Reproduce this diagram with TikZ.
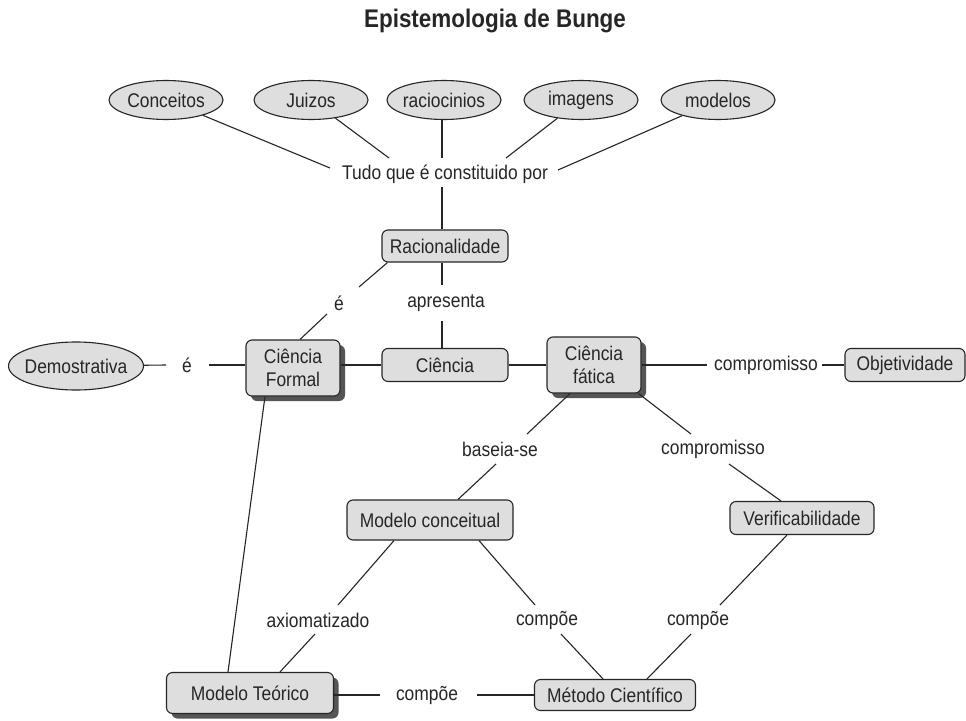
\documentclass[tikz,border=0pt]{standalone}
\usepackage{fontspec}
\setmainfont{Liberation Sans}[FakeStretch=0.88]
\usetikzlibrary{shapes.geometric,shadows}
\definecolor{boxfill}{HTML}{DEDEDE}
\definecolor{ink}{HTML}{262626}
\definecolor{shade}{HTML}{555555}
\begin{document}
\begin{tikzpicture}[x=1pt,y=-1pt,
  every node/.style={text=ink,font=\fontsize{19.8}{23}\selectfont},
  box/.style={draw=ink,fill=boxfill,rounded corners=6pt,line width=1.1pt,inner sep=0pt,align=center},
  ell/.style={draw=ink,fill=boxfill,ellipse,line width=1.1pt,inner sep=0pt,minimum width=114pt,minimum height=39pt},
  shad/.style={general shadow={fill=shade,shadow xshift=5pt,shadow yshift=-5pt}},
  lbl/.style={inner sep=0pt},
  conn/.style={draw=ink,line width=1.1pt}]
\fill[white] (0,0) rectangle (966,720);
\useasboundingbox (0,0) rectangle (966,720);

% title
\node[font=\bfseries\fontsize{25.5}{28}\selectfont] (title) at (495,21) {Epistemologia de Bunge};

% ellipses
\node[ell] (conc) at (166,100) {\makebox[70pt]{Conceitos}};
\node[ell] (jui) at (311,100) {\makebox[70pt]{Juizos}};
\node[ell] (raci) at (444,100) {\makebox[70pt]{raciocinios}};
\node[ell] (img) at (581,100) {\makebox[70pt]{imagens}};
\node[ell] (mod) at (718,100) {\makebox[70pt]{modelos}};
\node[ell,minimum width=135pt,minimum height=48pt] (demo) at (76,366) {\makebox[80pt]{Demostrativa}};

% boxes
\node[box,minimum width=126pt,minimum height=32pt] (racio) at (445,246) {Racionalidade};
\node[box,minimum width=126pt,minimum height=33pt] (ci) at (445,365) {Ciência};
\node[box,shad,minimum width=94pt,minimum height=56pt] (cf) at (293,368) {Ciência\\Formal};
\node[box,shad,minimum width=94pt,minimum height=56pt] (cfat) at (594,365) {Ciência\\fática};
\node[box,minimum width=120pt,minimum height=33pt] (obj) at (905,365) {Objetividade};
\node[box,minimum width=166pt,minimum height=40pt] (mc) at (430,520) {Modelo conceitual};
\node[box,minimum width=144pt,minimum height=33pt] (ver) at (802,518) {Verificabilidade};
\node[box,shad,minimum width=167pt,minimum height=41pt] (mt) at (250,693) {Modelo Teórico};
\node[box,minimum width=161pt,minimum height=31pt] (met) at (615,695) {Método Científico};

% labels
\node[lbl] (tudo) at (445,174) {Tudo que é constituido por};
\node[lbl] (apr) at (446,303) {apresenta};
\node[lbl] (e2) at (339,303) {é};
\node[lbl] (e1) at (187,365) {é};
\node[lbl] (comp1) at (766,365) {compromisso};
\node[lbl] (bas) at (500,449) {baseia-se};
\node[lbl] (comp2) at (713,449) {compromisso};
\node[lbl] (axi) at (318,620) {axiomatizado};
\node[lbl] (cp1) at (547,620) {compõe};
\node[lbl] (cp2) at (698,620) {compõe};
\node[lbl] (cp3) at (427,695) {compõe};

% top connectors
\draw[conn] (conc) -- ([xshift=-115pt,yshift=6pt]tudo.center);
\draw[conn] (jui) -- ([xshift=-56pt,yshift=16pt]tudo.center);
\draw[conn] ([xshift=-2pt]raci.south) -- ([xshift=-3pt,yshift=16pt]tudo.center);
\draw[conn] (img) -- ([xshift=61pt,yshift=16pt]tudo.center);
\draw[conn] (mod) -- ([xshift=113pt,yshift=4pt]tudo.center);
\draw[conn] ([xshift=-3pt,yshift=-13pt]tudo.center) -- ([xshift=-3pt]racio.north);

% racionalidade
\draw[conn] ([xshift=-3pt]racio.south) -- ([xshift=-4pt,yshift=18pt]apr.center);
\draw[conn] ([xshift=-4pt,yshift=-18pt]apr.center) -- ([xshift=-3pt]ci.north);
\draw[conn] ([xshift=6pt]racio.south west) -- ([xshift=20pt,yshift=16pt]e2.center);
\draw[conn] ([xshift=-12pt,yshift=-11pt]e2.center) -- ([xshift=7pt]cf.north);

% middle row
\draw[conn] (demo) -- ([xshift=-21pt]e1.center);
\draw[conn] ([xshift=22pt]e1.center) -- (cf.west |- e1.center);
\draw[conn] (cf.east |- ci.west) -- (ci.west);
\draw[conn] (ci.east) -- (cfat.west |- ci.east);
\draw[conn] (cfat.east |- comp1.center) -- ([xshift=-59pt]comp1.center);
\draw[conn] ([xshift=56pt]comp1.center) -- (obj.west |- comp1.center);

% lower
\draw[conn] ([xshift=-24pt]cfat.south) -- ([xshift=27pt,yshift=15pt]bas.center);
\draw[conn] ([xshift=-4pt,yshift=-15pt]bas.center) -- ([xshift=28pt]mc.north);
\draw[conn] ([xshift=-3pt]cfat.south east) -- ([xshift=-22pt,yshift=15pt]comp2.center);
\draw[conn] ([xshift=16pt,yshift=-15pt]comp2.center) -- ([xshift=-21pt]ver.north);
\draw[conn] ([xshift=-36pt]mc.south) -- ([xshift=20pt,yshift=15pt]axi.center);
\draw[conn] ([xshift=-3pt,yshift=-14pt]axi.center) -- ([xshift=30pt]mt.north);
\draw[conn] ([xshift=49pt]mc.south) -- ([xshift=-12pt,yshift=15pt]cp1.center);
\draw[conn] ([xshift=14pt,yshift=-14pt]cp1.center) -- ([xshift=-12pt]met.north);
\draw[conn] ([xshift=-15pt]ver.south) -- ([xshift=22pt,yshift=15pt]cp2.center);
\draw[conn] ([xshift=-7pt,yshift=-14pt]cp2.center) -- ([xshift=32pt]met.north);
\draw[conn] ([xshift=-28pt]cf.south) -- ([xshift=-22pt]mt.north);
\draw[conn] (mt.east |- cp3.center) -- ([xshift=-47pt]cp3.center);
\draw[conn] ([xshift=50pt]cp3.center) -- (met.west |- cp3.center);
\end{tikzpicture}
\end{document}
